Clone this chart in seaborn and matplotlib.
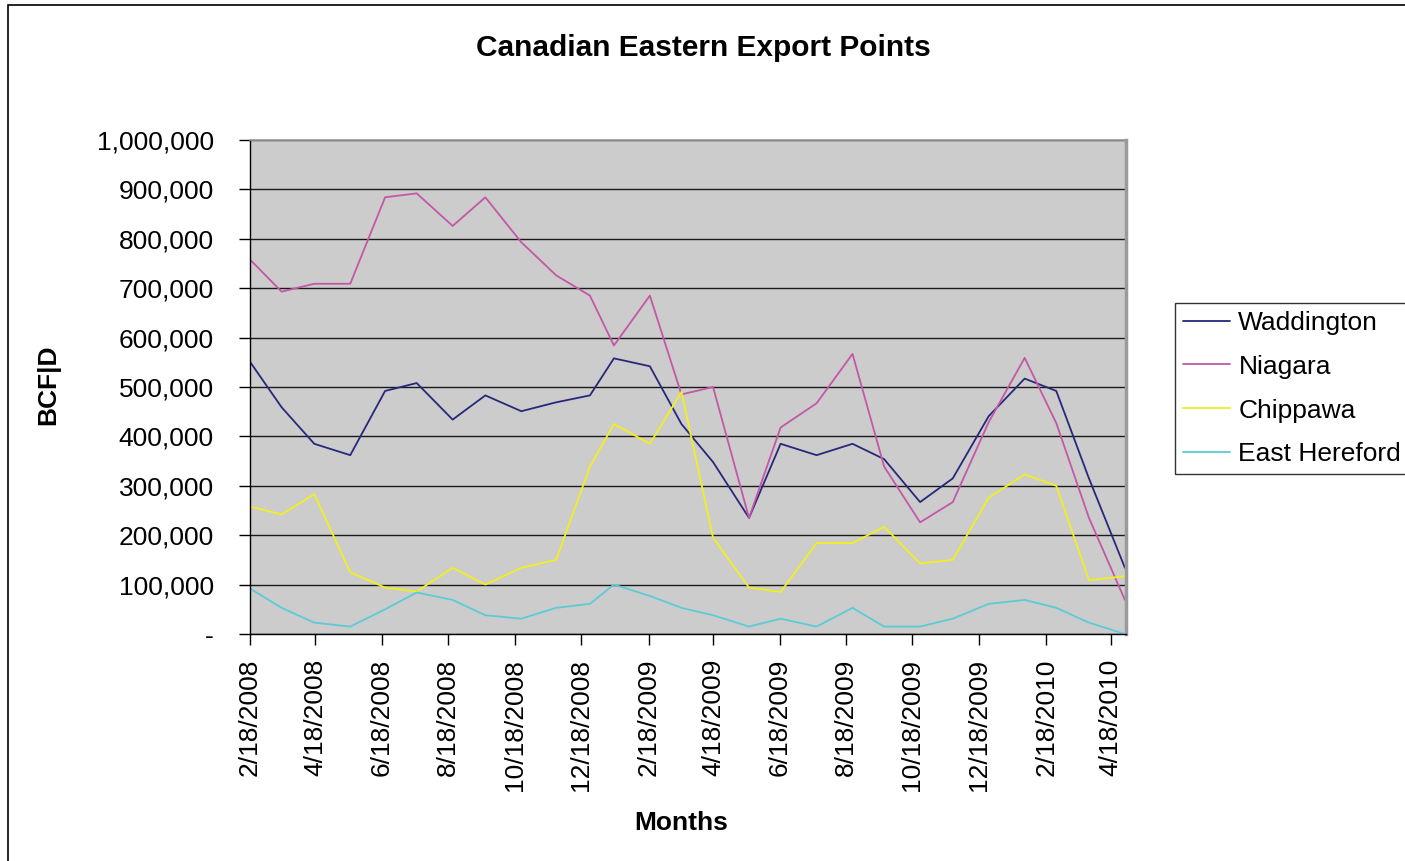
import pandas as pd
import matplotlib
matplotlib.use('Agg')
import matplotlib.pyplot as plt
import matplotlib.ticker as ticker
import matplotlib.dates as mdates
import matplotlib.patches as patches
import seaborn as sns

# Data (BCF|D)
fechas = ['2008-02-18', '2008-03-18', '2008-04-17', '2008-05-20', '2008-06-21',
          '2008-07-20', '2008-08-22', '2008-09-21', '2008-10-24', '2008-11-25',
          '2008-12-26', '2009-01-17', '2009-02-19', '2009-03-20', '2009-04-18',
          '2009-05-21', '2009-06-19', '2009-07-22', '2009-08-24', '2009-09-22',
          '2009-10-25', '2009-11-24', '2009-12-27', '2010-01-29', '2010-02-27',
          '2010-03-29', '2010-05-01']
waddington = [551000, 459000, 385000, 362000, 492000, 508000, 434000, 483000, 451000,
              469000, 483000, 558000, 542000, 425000, 348000, 235000, 385000, 362000,
              385000, 354000, 267000, 315000, 441000, 517000, 492000, 315000, 134000]
niagara = [758000, 693000, 709000, 709000, 884000, 892000, 826000, 884000, 793000,
           726000, 685000, 584000, 685000, 485000, 500000, 235000, 418000, 467000,
           567000, 339000, 226000, 267000, 429000, 559000, 427000, 235000, 69000]
chippawa = [258000, 242000, 283000, 125000, 94000, 86000, 134000, 100000, 134000,
            150000, 339000, 425000, 385000, 490000, 195000, 94000, 85000, 184000,
            184000, 217000, 143000, 150000, 276000, 323000, 300000, 109000, 117000]
east_hereford = [92000, 53000, 23000, 15000, 50000, 84000, 69000, 38000, 31000,
                 53000, 61000, 100000, 77000, 53000, 38000, 15000, 31000, 15000,
                 53000, 15000, 15000, 31000, 61000, 69000, 53000, 23000, 0]
etiquetas_x = ['2/18/2008', '4/18/2008', '6/18/2008', '8/18/2008', '10/18/2008',
               '12/18/2008', '2/18/2009', '4/18/2009', '6/18/2009', '8/18/2009',
               '10/18/2009', '12/18/2009', '2/18/2010', '4/18/2010']

colores = {'Waddington': '#27287a', 'Niagara': '#c457a8',
           'Chippawa': '#f2ef1e', 'East Hereford': '#5ccbd6'}

df = pd.DataFrame({'Fecha': pd.to_datetime(fechas), 'Waddington': waddington,
                   'Niagara': niagara, 'Chippawa': chippawa,
                   'East Hereford': east_hereford})
df = df.melt(id_vars='Fecha', var_name='Serie', value_name='Valor')

sns.set_theme(style='white')
plt.rcParams['font.family'] = ['Liberation Sans', 'DejaVu Sans']
plt.rcParams['text.color'] = 'black'
plt.rcParams['axes.labelcolor'] = 'black'

fig = plt.figure(figsize=(14.05, 8.61), dpi=100)
ax = fig.add_axes([250 / 1405, 1 - 634 / 861, 876 / 1405, 494 / 861])
ax.set_facecolor('#cccccc')

sns.lineplot(data=df, x='Fecha', y='Valor', hue='Serie', palette=colores,
             linewidth=1.3, ax=ax)

ax.set_ylim(0, 1000000)
ax.set_xlim(pd.Timestamp('2008-02-18'), pd.Timestamp('2010-05-02'))
ax.set_yticks(range(0, 1000001, 100000))
ax.yaxis.set_major_formatter(ticker.FuncFormatter(lambda y, _: '-' if y == 0 else f'{int(y):,}'))
ax.set_xticks(mdates.date2num(pd.to_datetime(etiquetas_x, format='%m/%d/%Y')))
ax.set_xticklabels(etiquetas_x, rotation=90)
ax.yaxis.grid(True, color='#1a1a1a', linewidth=1)

ax.tick_params(axis='both', bottom=True, left=True, direction='out', length=8,
               width=1, color='black', labelsize=19, labelcolor='black')
ax.tick_params(axis='x', pad=10)
ax.tick_params(axis='y', pad=18)

for lado in ['left', 'bottom']:
    ax.spines[lado].set_color('black')
    ax.spines[lado].set_linewidth(1)
ax.spines['top'].set_color('#9a9a9a')
ax.spines['right'].set_color('#9a9a9a')
ax.spines['right'].set_linewidth(2.5)

ax.set_xlabel('Months', fontsize=19, fontweight='bold', color='black')
ax.set_ylabel('BCF|D', fontsize=19, fontweight='bold', color='black')
ax.xaxis.set_label_coords(0.492, -0.383)
ax.xaxis.label.set_va('center')
ax.yaxis.set_label_coords(-0.23, 0.504)
ax.yaxis.label.set_va('center')

fig.text(703 / 1405, 1 - 48 / 861, 'Canadian Eastern Export Points',
         ha='center', va='center', fontsize=21.5, fontweight='bold', color='black')

sns.move_legend(ax, 'upper left', bbox_to_anchor=(1.056, 0.670), title=None,
                frameon=True, fancybox=False, edgecolor='black', fontsize=19,
                handlelength=1.8, handletextpad=0.3, labelspacing=0.75,
                borderpad=0.3, borderaxespad=0, labelcolor='black')
leg = ax.get_legend()
leg.get_frame().set_linewidth(1.0)
leg.get_frame().set_facecolor('white')
for linea in leg.get_lines():
    linea.set_linewidth(1.3)

# Outer chart border
fig.patches.append(patches.Rectangle((8 / 1405, -0.05), 1.2, 1 - 5 / 861 + 0.05,
                                     transform=fig.transFigure, fill=False,
                                     edgecolor='black', linewidth=1.2))

fig.savefig('out.png', dpi=100)
